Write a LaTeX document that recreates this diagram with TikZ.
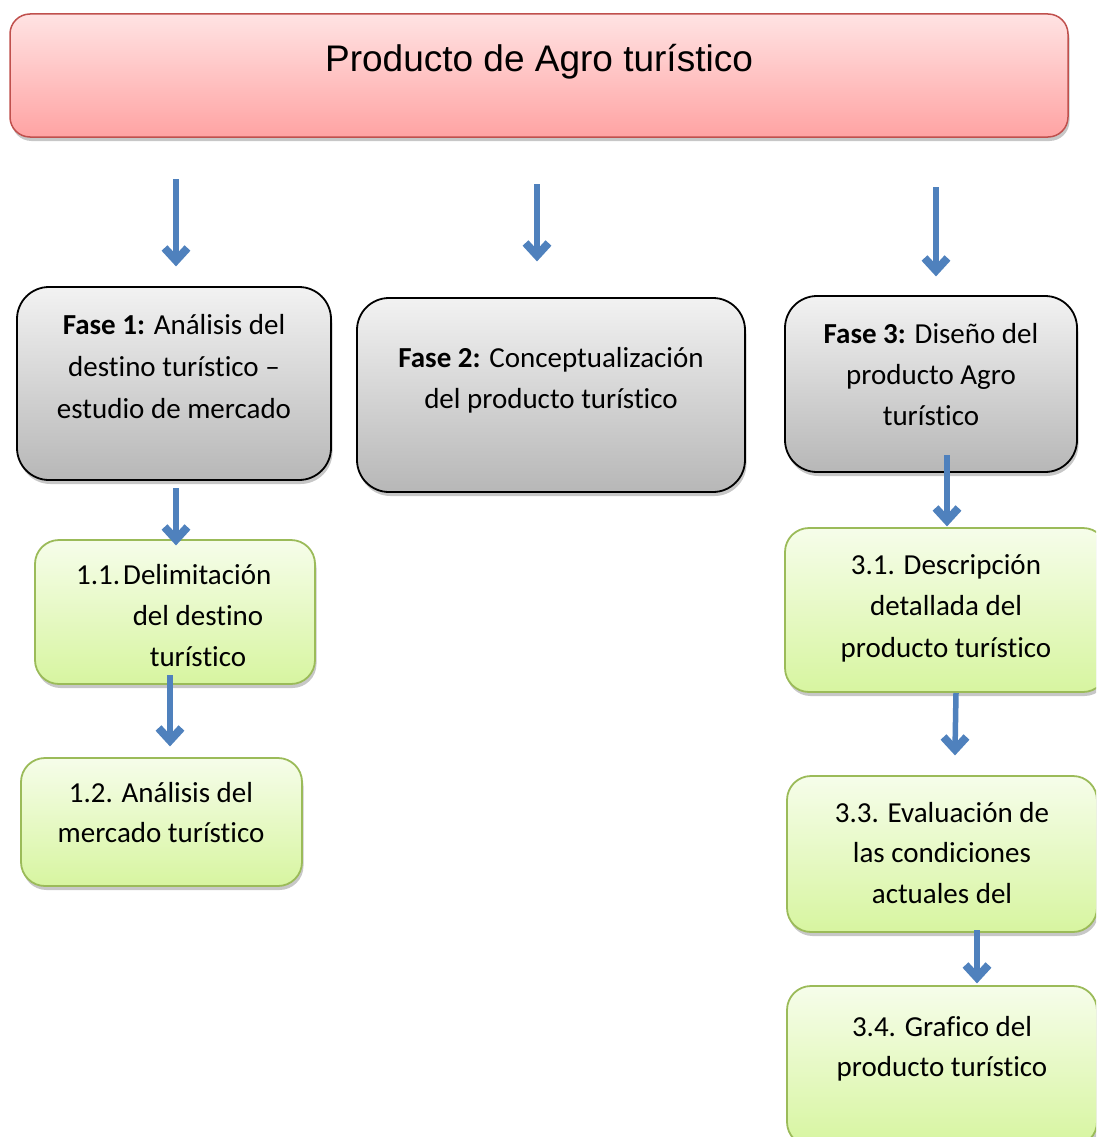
\documentclass[tikz,border=0pt]{standalone}
\usepackage{fontspec}
\setmainfont{Carlito}[Ligatures={NoCommon}]
\newfontfamily\titlefont{Liberation Sans}
\usetikzlibrary{shadows}
\definecolor{arrowblue}{HTML}{4F81BD}
\definecolor{redborder}{HTML}{C0504D}
\definecolor{redtop}{HTML}{FFE3E3}
\definecolor{redbot}{HTML}{FFA3A3}
\definecolor{graytop}{HTML}{F2F2F2}
\definecolor{graybot}{HTML}{B7B7B7}
\definecolor{greenborder}{HTML}{9BBB59}
\definecolor{greentop}{HTML}{F6FDEA}
\definecolor{greenbot}{HTML}{D7F5A0}
\begin{document}
\begin{tikzpicture}[x=1pt,y=-1pt,
  shad/.style={drop shadow={shadow xshift=1.5pt,shadow yshift=-4pt,opacity=0.22,fill=black}},
  titlebox/.style={shape=rectangle,rounded corners=20pt,draw=redborder,line width=1.5pt,
    top color=redtop,bottom color=redbot,shad,inner sep=0pt},
  phasebox/.style={shape=rectangle,rounded corners=32pt,draw=black,line width=1.8pt,
    top color=graytop,bottom color=graybot,shad,inner sep=0pt},
  stepbox/.style={shape=rectangle,rounded corners=24pt,draw=greenborder,line width=1.8pt,
    top color=greentop,bottom color=greenbot,shad,inner sep=0pt},
  txt/.style={font=\fontsize{29}{42}\selectfont,inner sep=0pt,anchor=base},
  flow/.style={draw=arrowblue,line width=5.5pt},
  chev/.pic={\draw[arrowblue,line width=8pt,line join=miter] (-11.5,-19) -- (0,-6.5) -- (11.5,-19);}]
\useasboundingbox (0,0) rectangle (1096,1137);
\clip (0,0) rectangle (1096,1137);

% boxes
\node[titlebox,minimum width=1058pt,minimum height=123pt] (title) at (539,75.5) {};
\node[phasebox,minimum width=314pt,minimum height=193pt] (f1) at (174,383.5) {};
\node[phasebox,minimum width=388pt,minimum height=194pt] (f2) at (551,395) {};
\node[phasebox,minimum width=292pt,minimum height=176pt] (f3) at (931,384) {};
\node[stepbox,minimum width=280pt,minimum height=144pt] (b11) at (175,612) {};
\node[stepbox,minimum width=281pt,minimum height=128pt] (b12) at (161.5,822) {};
\node[stepbox,minimum width=322pt,minimum height=164pt] (b31) at (946,610) {};
\node[stepbox,minimum width=310pt,minimum height=156pt] (b33) at (942,854) {};
\node[stepbox,minimum width=310pt,minimum height=160pt] (b34) at (942,1066) {};

% texts
\node[font=\titlefont\fontsize{37}{44}\selectfont,inner sep=0pt,anchor=base] (tt) at (539,72) {Producto de Agro turístico};

\node[txt] (f1a) at (174,334) {\textbf{Fase 1:} Análisis del};
\node[txt] (f1b) at (174,376) {destino turístico –};
\node[txt] (f1c) at (174,418) {estudio de mercado};

\node[txt] (f2a) at (551,367) {\textbf{Fase 2:} Conceptualización};
\node[txt] (f2b) at (551,408) {del producto turístico};

\node[txt] (f3a) at (931,343) {\textbf{Fase 3:} Diseño del};
\node[txt] (f3b) at (931,384) {producto Agro};
\node[txt] (f3c) at (931,425) {turístico};

\begin{scope}
\clip (30,540) rectangle (320,667);
\node[txt,anchor=base west] (b11a) at (76,584) {1.1.\hspace{3pt}Delimitación};
\node[txt] (b11b) at (198,625) {del destino};
\node[txt] (b11c) at (198,666) {turístico};
\end{scope}

\node[txt] (b12a) at (161,802) {1.2. Análisis del};
\node[txt] (b12b) at (161,842) {mercado turístico};

\node[txt] (b31a) at (946,574) {3.1. Descripción};
\node[txt] (b31b) at (946,615) {detallada del};
\node[txt] (b31c) at (946,657) {producto turístico};

\node[txt] (b33a) at (942,822) {3.3. Evaluación de};
\node[txt] (b33b) at (942,862) {las condiciones};
\node[txt] (b33c) at (942,903) {actuales del};

\node[txt] (b34a) at (942,1036) {3.4. Grafico del};
\node[txt] (b34b) at (942,1076) {producto turístico};

% connectors
\coordinate (a1s) at (176,179);  \coordinate (a1e) at (176,267);
\coordinate (a2s) at (537,184);  \coordinate (a2e) at (537,262);
\coordinate (a3s) at (936,187);  \coordinate (a3e) at (936,277);
\coordinate (a4s) at (176,488);  \coordinate (a4e) at (176,546);
\coordinate (a5s) at (170,675);  \coordinate (a5e) at (170,747);
\coordinate (a6s) at (947,455);  \coordinate (a6e) at (947,527);
\coordinate (a7s) at (956,693);  \coordinate (a7e) at (955,756);
\coordinate (a8s) at (977,930);  \coordinate (a8e) at (977,984);
\foreach \a in {a1,a2,a3,a4,a5,a6,a7,a8}{
  \draw[flow] (\a s) -- ([yshift=6pt]\a e);
  \path (\a e) pic {chev};
}
\end{tikzpicture}
\end{document}
